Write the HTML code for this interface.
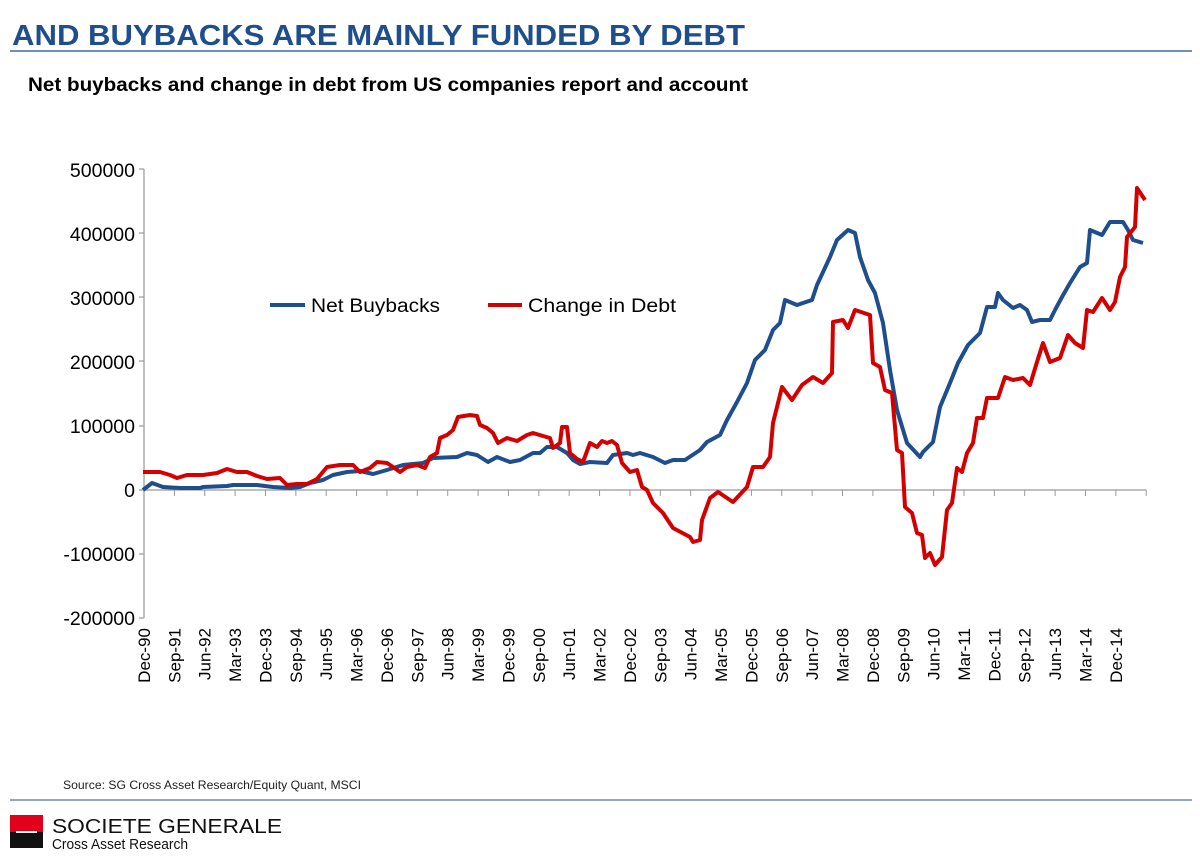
<!DOCTYPE html>
<html><head><meta charset="utf-8"><style>
body{margin:0;width:1200px;height:857px;background:#fff;overflow:hidden;font-family:"Liberation Sans",Arial,sans-serif}
</style></head><body>
<svg width="1200" height="857" xmlns="http://www.w3.org/2000/svg" font-family="Liberation Sans, Arial, sans-serif">
<text x="12" y="45" font-size="29" font-weight="bold" fill="#1f4e8c" textLength="733" lengthAdjust="spacingAndGlyphs">AND BUYBACKS ARE MAINLY FUNDED BY DEBT</text>
<line x1="10" y1="51" x2="1192" y2="51" stroke="#1f4e8c" stroke-width="1.2"/>
<text x="28" y="91" font-size="19" font-weight="bold" fill="#000" textLength="720" lengthAdjust="spacingAndGlyphs">Net buybacks and change in debt from US companies report and account</text>
<g font-size="19.5" fill="#000" text-anchor="end">
<text x="135" y="177">500000</text><text x="135" y="241">400000</text><text x="135" y="305">300000</text>
<text x="135" y="369">200000</text><text x="135" y="433">100000</text><text x="135" y="497">0</text>
<text x="135" y="561">-100000</text><text x="135" y="625">-200000</text>
</g>
<g stroke="#999" stroke-width="1.2">
<line x1="144" y1="169" x2="144" y2="618"/>
<line x1="139" y1="169" x2="144" y2="169"/><line x1="139" y1="233" x2="144" y2="233"/><line x1="139" y1="297" x2="144" y2="297"/><line x1="139" y1="361" x2="144" y2="361"/><line x1="139" y1="426" x2="144" y2="426"/><line x1="139" y1="554" x2="144" y2="554"/><line x1="139" y1="618" x2="144" y2="618"/>
<line x1="139" y1="490" x2="1146" y2="490"/>
</g>
<g id="ticks" stroke="#999" stroke-width="1"></g>
<g id="xl" font-size="17" fill="#000"></g>
<polyline fill="none" stroke="#1f4e8c" stroke-width="4" stroke-linejoin="round" points="143,490 152,483 163,487 180,488 200,488 203,487 227,486 233,485 257,485 273,487 290,488 300,487 310,483 323,480 333,475 347,472 360,471 373,474 387,470 403,465 423,463 433,458 457,457 467,453 477,455 488,462 497,457 510,462 520,460 533,453 540,453 547,447 557,447 567,453 573,460 580,464 590,462 607,463 613,455 627,453 633,455 640,453 653,457 665,463 673,460 685,460 700,450 707,442 720,435 727,420 737,402 747,383 755,360 765,350 773,330 780,323 785,300 797,305 812,300 817,285 830,257 837,240 848,230 855,233 860,257 868,280 875,293 883,323 890,370 897,410 907,443 920,457 923,452 933,442 940,407 950,383 958,363 968,345 980,333 987,307 995,307 998,293 1003,300 1013,308 1020,305 1027,310 1032,322 1040,320 1050,320 1055,310 1062,297 1070,283 1080,267 1087,263 1090,230 1102,235 1110,222 1123,222 1128,230 1133,240 1143,243"/>
<polyline fill="none" stroke="#d40000" stroke-width="4" stroke-linejoin="round" points="143,472 160,472 170,475 177,478 187,475 203,475 217,473 227,469 237,472 247,472 257,476 267,479 280,478 287,485 297,484 307,484 317,479 327,467 340,465 353,465 360,472 370,468 377,462 387,463 393,467 400,472 407,467 417,465 425,468 430,457 437,453 440,438 447,435 453,430 458,417 470,415 477,416 480,425 487,428 493,433 498,443 507,438 517,441 527,435 533,433 543,436 550,438 553,448 560,443 562,427 567,427 570,453 577,459 583,462 590,443 597,447 602,441 607,443 612,441 617,445 622,463 630,472 637,470 642,487 647,490 653,503 663,513 673,528 690,537 693,542 700,540 702,520 710,498 718,492 733,502 747,487 753,467 763,467 770,457 773,423 782,387 792,400 802,385 813,377 823,383 832,373 833,322 843,320 848,328 855,310 870,315 873,363 880,367 885,390 892,393 897,450 902,453 905,507 912,513 917,533 922,535 925,558 930,553 935,565 942,557 947,510 952,503 957,468 962,472 967,453 973,443 977,418 983,418 987,398 998,398 1005,377 1013,380 1023,378 1030,385 1037,362 1043,343 1050,362 1060,358 1068,335 1075,343 1083,348 1087,310 1093,312 1102,298 1110,310 1115,302 1120,277 1125,267 1127,237 1135,227 1137,188 1145,200"/>
<line x1="270" y1="305" x2="305" y2="305" stroke="#1f4e8c" stroke-width="4"/>
<text x="311" y="312" font-size="19" textLength="129" lengthAdjust="spacingAndGlyphs">Net Buybacks</text>
<line x1="488" y1="305" x2="522" y2="305" stroke="#d40000" stroke-width="4"/>
<text x="528" y="312" font-size="19" textLength="148" lengthAdjust="spacingAndGlyphs">Change in Debt</text>
<text x="63" y="789" font-size="12" fill="#222" textLength="298" lengthAdjust="spacingAndGlyphs">Source: SG Cross Asset Research/Equity Quant, MSCI</text>
<line x1="10" y1="800" x2="1192" y2="800" stroke="#1f4e8c" stroke-width="1"/>
<rect x="10" y="815" width="33" height="17" fill="#e2001a"/>
<rect x="10" y="832" width="33" height="16" fill="#111"/>
<rect x="16" y="831" width="21" height="2" fill="#fff"/>
<text x="52" y="833" font-size="20" fill="#111" textLength="230" lengthAdjust="spacingAndGlyphs">SOCIETE GENERALE</text>
<text x="52" y="849" font-size="14.5" fill="#111" textLength="136" lengthAdjust="spacingAndGlyphs">Cross Asset Research</text>
</svg>
<script>
var labs=["Dec-90","Sep-91","Jun-92","Mar-93","Dec-93","Sep-94","Jun-95","Mar-96","Dec-96","Sep-97","Jun-98","Mar-99","Dec-99","Sep-00","Jun-01","Mar-02","Dec-02","Sep-03","Jun-04","Mar-05","Dec-05","Sep-06","Jun-07","Mar-08","Dec-08","Sep-09","Jun-10","Mar-11","Dec-11","Sep-12","Jun-13","Mar-14","Dec-14"];
var ns="http://www.w3.org/2000/svg",t=document.getElementById("ticks"),xl=document.getElementById("xl");
for(var i=0;i<=33;i++){var x=144+i*30.37;var l=document.createElementNS(ns,"line");l.setAttribute("x1",x);l.setAttribute("x2",x);l.setAttribute("y1",490);l.setAttribute("y2",496);t.appendChild(l);
if(i<33){var tx=document.createElementNS(ns,"text");tx.setAttribute("transform","translate("+(x+6)+",628) rotate(-90)");tx.setAttribute("text-anchor","end");tx.textContent=labs[i];xl.appendChild(tx);}}
</script>
</body></html>
